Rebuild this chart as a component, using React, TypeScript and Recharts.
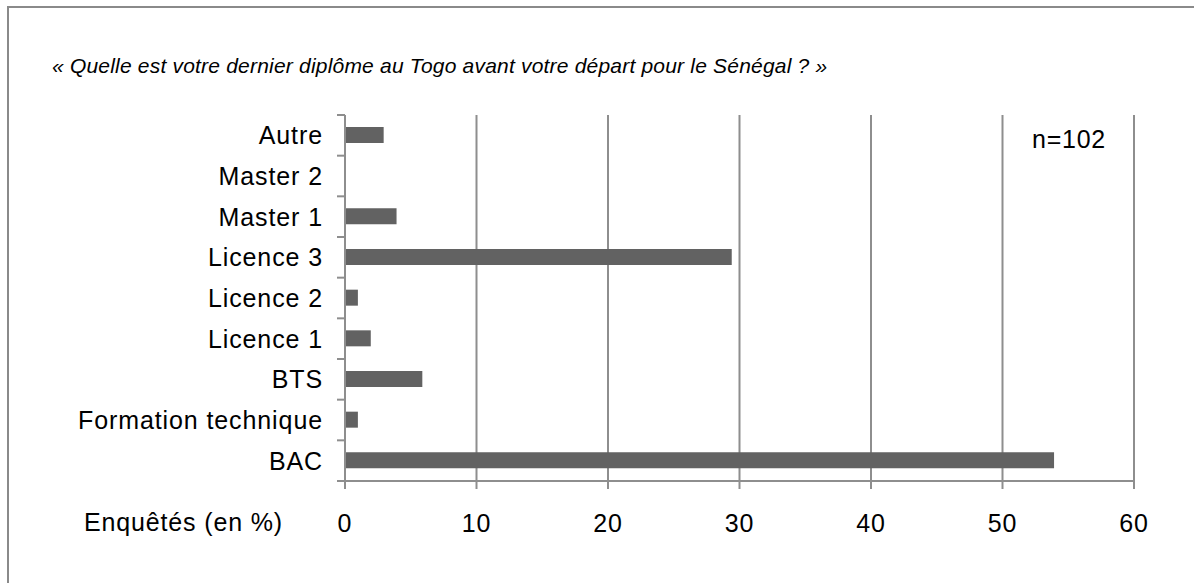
import { BarChart, Bar, XAxis, YAxis, CartesianGrid } from "recharts";

// diplôme, en % des enquêtés (n=102), du haut vers le bas
const categories = [
  "Autre",
  "Master 2",
  "Master 1",
  "Licence 3",
  "Licence 2",
  "Licence 1",
  "BTS",
  "Formation technique",
  "BAC",
];
const percents = [2.94, 0, 3.92, 29.41, 0.98, 1.96, 5.88, 0.98, 53.92];
const xTicks = [0, 10, 20, 30, 40, 50, 60];

const title =
  "« Quelle est votre dernier diplôme au Togo avant votre départ pour le Sénégal ? »";
const sampleLabel = "n=102";
const axisLabel = "Enquêtés (en %)";

const data = categories.map((name, i) => ({ name, value: percents[i] }));

const GREY = "#8e8e8e";
const SPACING = "0.9px";

function CategoryTick(props: any) {
  const { x, y, payload, index, visibleTicksCount } = props;
  const half = payload?.offset ?? 20.33;
  const axisX = x + 23;
  return (
    <g>
      <text
        x={x + 1}
        y={y}
        dy="0.36em"
        textAnchor="end"
        fontSize={25}
        fill="#000"
        style={{ letterSpacing: SPACING }}
      >
        {payload.value}
      </text>
      <line x1={axisX - 8} x2={axisX} y1={y - half} y2={y - half} stroke={GREY} strokeWidth={2} />
      {index === visibleTicksCount - 1 && (
        <line x1={axisX - 8} x2={axisX} y1={y + half} y2={y + half} stroke={GREY} strokeWidth={2} />
      )}
    </g>
  );
}

export default function App() {
  return (
    <div
      style={{
        position: "absolute",
        left: 0,
        top: 0,
        width: 1194,
        height: 583,
        overflow: "hidden",
        background: "#fff",
        fontFamily: "'Liberation Sans', Arial, sans-serif",
      }}
    >
      <div
        style={{
          position: "absolute",
          left: 7,
          top: 6,
          width: 1400,
          height: 800,
          borderTop: "2px solid #8a8a8a",
          borderLeft: "2px solid #8a8a8a",
        }}
      />
      <div
        style={{
          position: "absolute",
          left: 52,
          top: 55,
          fontSize: 21,
          lineHeight: "21px",
          fontStyle: "italic",
          letterSpacing: "0.2px",
          whiteSpace: "nowrap",
        }}
      >
        {title}
      </div>
      <div style={{ position: "absolute", left: 1032, top: 127, fontSize: 25, lineHeight: "25px", letterSpacing: "0.75px" }}>
        {sampleLabel}
      </div>
      <div
        style={{
          position: "absolute",
          left: 84,
          top: 510,
          fontSize: 25,
          lineHeight: "25px",
          letterSpacing: "0.85px",
          whiteSpace: "nowrap",
        }}
      >
        {axisLabel}
      </div>
      <BarChart
        width={1194}
        height={583}
        data={data}
        layout="vertical"
        margin={{ top: 115, right: 60, bottom: 42, left: 15 }}
        style={{ position: "absolute", left: 0, top: 0 }}
      >
        <CartesianGrid horizontal={false} stroke={GREY} strokeWidth={2} />
        <XAxis
          type="number"
          domain={[0, 60]}
          ticks={xTicks}
          height={60}
          stroke={GREY}
          strokeWidth={2}
          tickSize={8}
          tickMargin={25}
          tick={{ fill: "#000", fontSize: 25, style: { letterSpacing: SPACING } }}
        />
        <YAxis
          type="category"
          dataKey="name"
          width={330}
          stroke={GREY}
          strokeWidth={2}
          tickLine={false}
          tickSize={0}
          tickMargin={23}
          tick={<CategoryTick />}
          interval={0}
        />
        <Bar dataKey="value" fill="#626262" barSize={16} isAnimationActive={false} />
      </BarChart>
    </div>
  );
}
